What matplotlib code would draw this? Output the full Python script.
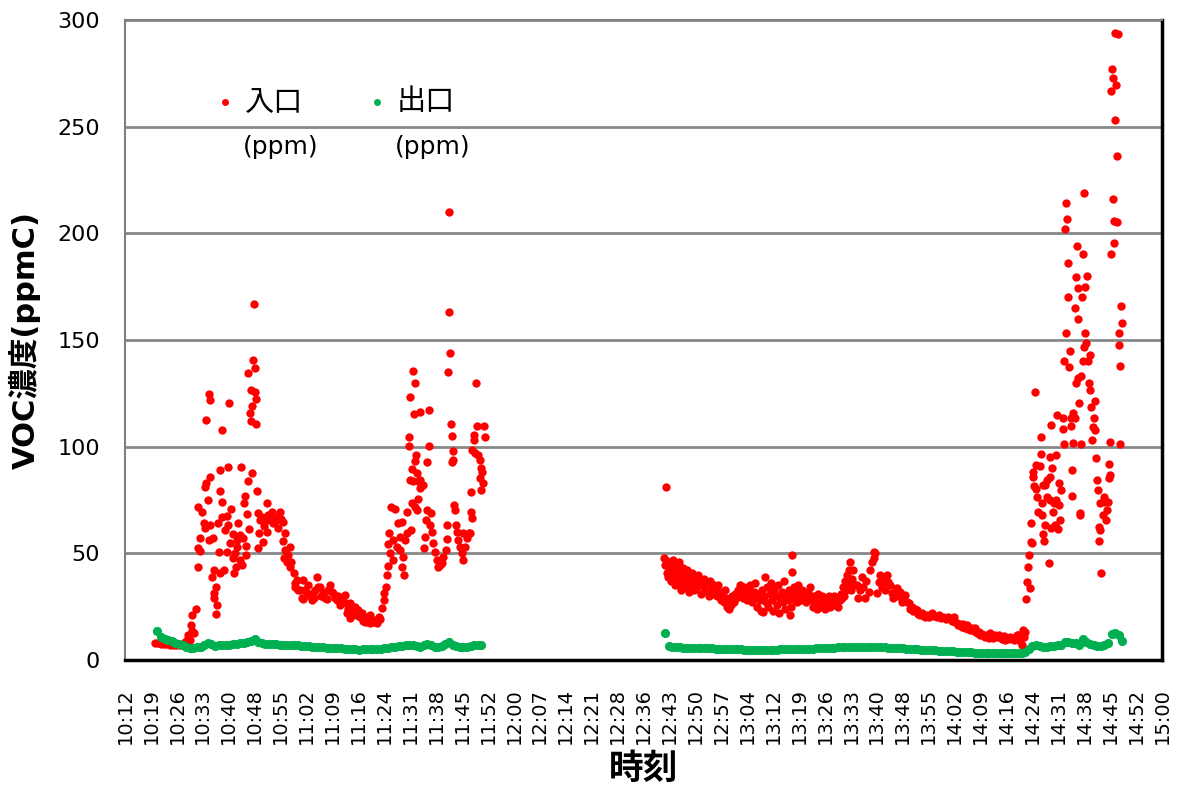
import numpy as np
import matplotlib.pyplot as plt

plt.rcParams['font.family'] = ['DejaVu Sans', 'Noto Sans CJK JP']

# ============================ Data (time = minutes after 10:00) ============================
# 入口 (inlet) - morning run
red_am_min = [20.3, 21.2, 22.0, 22.8, 23.7, 24.5, 25.3, 26.2, 27.0, 27.8,
              28.7, 29.2, 29.6, 30.0, 30.2, 30.5, 30.6, 31.2, 31.7, 32.2,
              32.3, 32.4, 32.8, 32.9, 33.3, 33.8, 34.2, 34.3, 34.4, 34.5,
              35.1, 35.2, 35.3, 35.5, 35.6, 35.7, 36.1, 36.5, 36.6, 36.7,
              36.8, 37.2, 37.3, 37.5, 37.9, 38.2, 38.3, 38.4, 38.5, 38.8,
              38.9, 39.0, 39.5, 39.8, 40.2, 40.3, 40.5, 40.7, 40.8, 41.2,
              41.4, 42.0, 42.1, 42.3, 42.6, 42.9, 43.0, 43.1, 43.5, 43.9,
              44.0, 44.2, 44.4, 44.9, 45.1, 45.3, 45.6, 45.7, 45.8, 46.1,
              46.2, 46.3, 46.7, 46.9, 47.0, 47.2, 47.3, 47.6, 47.7, 48.1,
              48.2, 48.4, 48.5, 48.6, 48.9, 49.0, 49.1, 49.5, 50.1, 50.4,
              50.6, 51.3, 51.4, 51.5, 51.7, 52.3, 52.8, 53.1, 53.7, 54.1,
              54.5, 55.1, 55.3, 55.9, 56.0, 56.1, 56.4, 56.5, 56.9, 57.3,
              57.8, 57.9, 58.1, 58.8, 59.2, 59.3, 59.7, 60.1, 60.6, 61.1,
              61.4, 61.5, 62.0, 62.5, 62.9, 63.4, 63.9, 64.3, 64.4, 64.8,
              65.3, 65.6, 66.2, 66.4, 67.1, 67.6, 68.0, 68.4, 68.9, 69.4,
              69.9, 70.3, 70.8, 71.2, 71.7, 72.0, 72.6, 73.1, 73.5, 73.6,
              73.9, 74.5, 74.6, 75.1, 75.4, 75.9, 76.2, 76.8, 77.3, 77.8,
              78.1, 78.7, 79.1, 79.5, 80.0, 80.1, 80.6, 81.0, 81.4, 81.9,
              82.4, 82.8, 83.3, 83.8, 84.0, 84.5, 84.7, 85.0, 85.1, 85.2,
              85.6, 85.8, 86.4, 86.5, 87.0, 87.5, 87.9, 88.3, 88.4, 88.8,
              88.9, 89.3, 89.5, 89.8, 90.3, 90.4, 90.8, 91.0, 91.1, 91.2,
              91.4, 91.6, 91.7, 92.0, 92.1, 92.3, 92.4, 92.5, 92.6, 92.7,
              93.0, 93.2, 93.4, 93.5, 93.8, 93.9, 94.0, 94.7, 94.9, 95.3,
              95.6, 95.8, 96.0, 96.3, 96.5, 96.7, 96.9, 97.2, 97.6, 98.1,
              98.6, 99.0, 99.5, 100.0, 100.4, 101.1, 101.4, 101.5, 101.8, 102.0,
              102.1, 102.3, 102.5, 102.7, 102.8, 103.0, 103.2, 103.4, 103.7, 103.9,
              104.1, 104.6, 104.9, 105.5, 105.9, 106.0, 106.4, 106.9, 107.4, 107.8,
              108.1, 108.2, 108.3, 108.5, 108.8, 109.0, 109.2, 109.6, 109.7, 110.1,
              110.5, 110.6, 110.8, 111.0, 111.1, 111.4, 111.7, 112.0]
red_am_ppm = [8.1, 7.9, 7.6, 7.5, 7.3, 7.2, 7.0, 7.0, 6.9, 7.0,
              8.6, 9.5, 11.7, 9.4, 16.4, 13.8, 20.9, 12.5, 23.8, 71.6,
              43.8, 52.4, 57.0, 51.2, 69.5, 64.4, 61.7, 81.2, 112.5, 83.0,
              75.0, 56.3, 124.7, 63.3, 121.9, 85.8, 38.8, 57.0, 28.9, 42.2,
              31.3, 21.6, 34.1, 25.8, 64.4, 50.5, 79.4, 89.0, 40.6, 107.8,
              67.0, 74.0, 42.2, 61.0, 50.5, 67.7, 90.6, 63.3, 120.6, 54.7,
              70.8, 47.7, 58.9, 40.6, 50.0, 43.8, 56.3, 53.1, 64.2, 58.6,
              46.9, 90.6, 44.5, 57.0, 73.6, 77.0, 53.4, 49.2, 68.4, 84.0,
              134.5, 61.3, 115.8, 112.0, 126.6, 87.8, 119.0, 140.6, 167.0, 137.0,
              125.7, 122.4, 110.6, 79.4, 52.4, 69.0, 59.7, 65.6, 67.0, 55.5,
              63.0, 65.6, 73.8, 60.2, 68.0, 66.0, 69.5, 64.0, 67.0, 65.6,
              62.0, 69.5, 66.0, 56.0, 64.8, 47.7, 59.4, 51.6, 46.1, 49.0,
              53.1, 43.8, 46.0, 40.6, 36.0, 34.4, 37.5, 33.0, 32.8, 28.9,
              28.6, 37.5, 33.0, 31.3, 35.2, 30.0, 28.1, 31.3, 28.9, 33.0,
              39.0, 34.0, 34.4, 30.0, 31.3, 29.0, 28.4, 33.0, 35.2, 32.0,
              31.3, 29.0, 28.1, 30.0, 25.8, 28.1, 27.0, 30.5, 26.6, 21.9,
              24.0, 26.6, 19.5, 22.0, 25.0, 25.0, 21.0, 23.4, 20.0, 21.9,
              18.5, 18.0, 19.5, 17.8, 17.5, 21.1, 18.5, 18.0, 18.8, 17.5,
              20.3, 19.0, 24.2, 28.1, 31.3, 34.4, 39.8, 44.0, 54.4, 59.4,
              50.0, 71.9, 46.9, 56.3, 70.6, 53.1, 64.4, 51.6, 57.8, 43.8,
              64.8, 48.4, 39.8, 56.3, 59.4, 69.5, 104.4, 100.3, 84.4, 123.4,
              61.0, 73.8, 89.5, 83.7, 135.6, 115.3, 129.7, 71.9, 93.4, 96.1,
              70.3, 87.5, 75.7, 83.7, 80.5, 116.4, 84.4, 82.0, 52.4, 57.8,
              65.6, 70.3, 93.0, 117.2, 100.3, 63.3, 68.8, 60.2, 54.7, 50.8,
              46.9, 43.8, 44.5, 45.3, 48.4, 51.6, 56.5, 63.3, 134.9, 210.0,
              163.0, 144.0, 110.6, 93.0, 105.0, 98.1, 93.8, 72.7, 70.3, 63.3,
              60.2, 56.3, 53.1, 50.0, 47.0, 59.4, 53.1, 57.0, 59.4, 59.4,
              69.5, 78.9, 66.4, 98.4, 103.1, 105.5, 96.9, 130.0, 109.7, 96.1,
              85.2, 93.8, 89.9, 79.7, 88.3, 82.8, 109.7, 104.7]

# 入口 (inlet) - afternoon run
red_pm_min = [161.7, 162.0, 162.3, 162.4, 162.6, 162.8, 163.1, 163.4, 163.7, 163.9,
              164.2, 164.5, 164.8, 165.1, 165.3, 165.6, 165.9, 166.2, 166.4, 166.7,
              167.0, 167.3, 167.6, 167.8, 168.1, 168.4, 168.7, 168.9, 169.5, 169.8,
              170.1, 170.6, 170.9, 171.2, 171.7, 172.0, 172.3, 172.8, 173.1, 173.4,
              173.9, 174.2, 174.5, 175.1, 175.3, 175.6, 176.2, 176.4, 176.7, 177.3,
              177.6, 177.8, 178.4, 178.7, 178.9, 179.2, 179.5, 179.8, 180.1, 180.3,
              180.6, 181.2, 181.4, 181.7, 182.3, 182.6, 182.8, 183.4, 183.7, 183.9,
              184.5, 184.8, 185.1, 185.6, 185.9, 186.2, 186.7, 187.0, 187.3, 187.6,
              187.8, 188.4, 188.7, 188.9, 189.2, 189.5, 189.8, 190.1, 190.3, 190.6,
              191.2, 191.4, 191.7, 192.0, 192.3, 192.8, 193.1, 193.4, 193.7, 193.9,
              194.5, 194.8, 195.1, 195.3, 195.6, 196.2, 196.4, 196.7, 197.0, 197.2,
              197.3, 197.6, 197.8, 198.1, 198.4, 198.7, 198.9, 199.5, 199.8, 200.1,
              200.6, 200.9, 201.2, 201.7, 202.0, 202.3, 202.8, 203.1, 203.4, 203.9,
              204.2, 204.5, 205.1, 205.3, 205.6, 206.2, 206.4, 206.7, 207.3, 207.6,
              207.8, 208.4, 208.7, 208.9, 209.5, 209.8, 210.1, 210.6, 210.9, 211.2,
              211.4, 211.7, 212.0, 212.3, 212.6, 212.8, 213.1, 213.4, 213.7, 213.9,
              214.2, 214.8, 215.2, 215.6, 216.2, 216.6, 217.1, 217.6, 217.8, 218.5,
              218.9, 219.4, 219.9, 220.1, 220.3, 220.8, 221.3, 221.7, 222.2, 222.6,
              223.1, 223.6, 224.0, 224.5, 225.0, 225.4, 225.9, 226.4, 226.7, 227.3,
              227.8, 228.1, 228.7, 229.1, 229.6, 230.1, 230.5, 230.9, 231.4, 231.9,
              232.3, 232.8, 233.4, 234.2, 234.8, 235.3, 236.1, 236.7, 237.5, 238.1,
              238.7, 239.3, 240.1, 240.6, 241.2, 241.6, 242.1, 242.6, 243.1, 243.4,
              243.9, 244.4, 244.8, 245.3, 245.8, 246.2, 246.7, 247.3, 247.7, 248.1,
              248.7, 249.1, 249.5, 250.1, 250.5, 250.9, 251.5, 251.9, 252.3, 252.8,
              253.2, 253.6, 254.2, 254.6, 255.1, 255.6, 256.0, 256.4, 257.0, 257.4,
              257.8, 258.4, 258.8, 259.2, 259.6, 260.1, 260.6, 261.1, 261.4, 261.5,
              261.7, 262.0,
              262.3, 262.5, 262.9, 263.0, 263.4, 263.5, 263.6, 263.9, 264.1, 264.3,
              264.4, 264.6, 265.1, 265.0, 265.4, 265.7, 266.2, 266.4, 266.5, 266.6,
              266.7, 266.9, 267.1, 267.0, 267.5, 267.6, 268.0, 268.1, 268.5, 268.8,
              268.9, 269.0, 269.1, 269.2, 269.4, 269.9, 269.8, 270.3, 270.6, 270.8,
              270.7, 271.3, 271.2, 271.5, 271.7, 272.0, 272.5, 272.6, 272.7, 272.8,
              273.2, 273.3, 273.4, 273.6, 273.8, 274.0, 274.1, 274.5, 274.7, 274.8,
              275.0, 274.9, 275.3, 275.4, 275.8, 275.9, 276.0, 276.2, 276.4, 276.6,
              276.7, 276.8, 277.0, 277.1, 277.3, 277.5, 277.4, 277.8, 278.2, 278.1,
              278.3, 278.4, 278.7, 278.6, 278.9, 279.1, 279.6, 279.5, 279.9, 280.1,
              280.3, 280.6, 280.8, 281.2, 281.3, 281.4, 281.7, 281.9, 282.1, 282.4,
              282.6, 282.8, 282.9, 283.1, 283.8, 283.7, 284.2, 284.5, 284.7, 285.1,
              285.2, 285.3, 285.6, 285.5, 285.8, 285.9, 286.1, 286.4, 286.5, 286.6,
              286.8, 287.0, 286.9, 287.3, 287.5, 287.6, 287.9, 288.0, 288.1, 288.4,
              288.3, 288.7, 288.9]
red_pm_ppm = [47.8, 44.5, 81.2, 41, 46.4, 39, 43, 45, 37, 42,
              47, 40, 35, 44, 38, 41, 46, 36, 33, 40,
              43, 37, 34, 39, 42, 35, 32, 38, 41, 36,
              33, 39, 34, 40, 37, 31, 35, 38, 33, 36,
              32, 30, 37, 34, 31, 35, 33, 30, 35, 32,
              28, 30, 27, 33, 29, 25, 26, 24, 28, 26,
              30, 27, 31, 29, 33, 30, 35, 32, 29, 34,
              31, 28, 33, 35, 30, 27, 32, 36, 29, 25,
              31, 28, 23, 33, 22.5, 30, 39, 27, 34, 25,
              31, 36, 28, 23, 33, 30, 26, 35, 22, 29,
              32, 27, 37, 24, 31, 28, 33, 21, 25, 49.2,
              41.4, 30, 34, 28, 32, 27, 35, 30, 28, 33,
              29, 31, 27, 32, 29, 34, 28, 25, 30, 27,
              24, 31, 28, 25, 30, 27, 24, 29, 26, 30,
              25, 28, 26, 30, 27, 29, 25, 28, 31, 29,
              34, 30, 37, 33, 40, 35, 42, 46, 32.8, 38,
              42, 35, 35, 29, 33, 39, 34.4, 29, 37, 32,
              42, 46, 47.7, 50.8, 50, 31.3, 36.7, 40, 34.4, 37.5,
              33, 39.8, 36.7, 35, 31.3, 28.9, 32, 33.6, 30, 32,
              27.3, 29, 30.5, 27, 26.6, 24, 25, 23, 24, 23.4,
              21.5, 21.1, 22, 20.3, 21, 20, 21.9, 20.5, 20.3, 21,
              19.5, 20.3, 19, 20, 19.5, 18.5, 20.3, 18, 17.2, 16.5,
              17, 15.6, 16.8, 15, 16.4, 14.5, 14.1, 15.2, 13.5, 14.8,
              12.8, 13.2, 11.7, 12.2, 11.2, 10.9, 11.8, 10.5, 12.5, 11,
              10.2, 11.7, 10.6, 11.5, 10.9, 10, 11.2, 9.4, 10.4, 9.8,
              10.9, 10.2, 9.5, 10.2, 11.5, 11.7, 9, 7, 12.8, 14.1,
              11, 13.3,
              28.4, 36.7, 43.7, 49.2, 33.6, 64, 55.5, 54.7, 86, 88.3,
              81.6, 125.8, 91.4, 80, 76.6, 69.5, 91, 104.4, 96.6, 73.4,
              68, 59, 56, 82, 82, 63.3, 84.4, 76.6, 45.3, 86,
              95.3, 75, 61.7, 110.2, 89.9, 73.4, 69.5, 63.3, 96, 114.9,
              75, 82.8, 61.4, 72.7, 65.6, 79.7, 108.3, 113.3, 101.1, 140.3,
              202, 153.2, 214.4, 206.9, 170.3, 186, 137.5, 145, 113.3, 109.7,
              89, 76.9, 116, 101.6, 165.2, 113.3, 179.6, 129.7, 194.1, 159.7,
              132, 174.3, 120.6, 69, 68, 133.1, 101.3, 170.3, 190.3, 140.3,
              146.9, 218.8, 174.7, 153.2, 148.8, 180, 129.7, 140.3, 143, 126.6,
              118.8, 103.1, 109.4, 113.3, 121.6, 107.8, 94.5, 84.4, 79.7, 62.5,
              56, 73.4, 61, 41, 76.6, 68, 74.2, 65.6, 70.3, 74.2,
              85.2, 91.9, 86.7, 102.3, 190.2, 266.6, 276.9, 273, 216, 206,
              195.3, 293.8, 253.2, 269.4, 205.5, 236.3, 293.5, 153.2, 147.7, 137.8,
              101.1, 166, 157.8]

# 出口 (outlet) - one reading per minute
green_am_start = 21
green_am_ppm = [13.5, 11.0, 10.0, 9.6, 9.0, 8.2, 7.4, 6.8, 6.1, 5.6,
                5.5, 5.9, 6.3, 6.8, 7.8, 7.4, 6.7, 6.8, 7.0, 7.1,
                6.9, 7.3, 7.5, 7.8, 8.1, 8.5, 9.0, 9.7, 8.4, 7.8,
                7.7, 7.6, 7.5, 7.4, 7.2, 7.1, 7.0, 6.9, 6.8, 6.8,
                6.7, 6.6, 6.4, 6.3, 6.2, 6.0, 5.9, 5.8, 5.7, 5.6,
                5.5, 5.4, 5.3, 5.1, 5.0, 5.0, 4.9, 5.0, 5.0, 5.0,
                5.1, 5.2, 5.3, 5.5, 5.7, 5.9, 6.2, 6.4, 6.6, 6.8,
                6.9, 7.0, 6.5, 6.3, 6.8, 7.5, 6.9, 6.2, 6.0, 6.4,
                7.6, 8.6, 7.0, 6.6, 6.3, 6.0, 6.3, 6.7, 7.0, 7.2, 7.0]
green_pm_start = 162
green_pm_ppm = [12.5, 6.4, 6.2, 6.0, 5.9, 5.8, 5.8, 5.7, 5.6, 5.6,
                5.5, 5.5, 5.4, 5.4,
                5.3, 5.2, 5.2, 5.1, 5.1, 5.0, 5.0, 5.0, 4.9, 4.9,
                4.9, 4.8, 4.8, 4.8, 4.8, 4.9, 4.9, 4.9, 5.0, 5.0,
                5.0, 5.1, 5.1, 5.1, 5.2,
                5.2, 5.3, 5.3, 5.4, 5.5, 5.5, 5.6, 5.7, 5.8, 5.9,
                6.0, 6.0, 6.1, 6.2, 6.2, 6.2, 6.3, 6.3, 6.2, 6.2,
                6.1, 6.0, 5.9, 5.8, 5.7,
                5.6, 5.5, 5.4, 5.3, 5.2, 5.1, 5.0, 4.9, 4.8, 4.7,
                4.6, 4.5, 4.4, 4.3, 4.2, 4.1, 4.0, 3.9, 3.8, 3.7,
                3.6, 3.6, 3.5, 3.5, 3.4, 3.4, 3.4, 3.3, 3.3, 3.3,
                3.2, 3.2, 3.2, 3.2, 3.3, 3.4, 3.6,
                5.0, 6.6, 7.0, 6.6, 6.2, 6.2, 6.4, 6.5, 6.8, 7.2,
                8.3, 8.6, 7.8, 8.1, 7.2, 9.8, 8.3, 7.5, 6.8, 6.6,
                6.4, 6.8, 8.0, 12.0, 12.5, 11.5, 9.0]

tick_labels = ['10:12', '10:19', '10:26', '10:33', '10:40', '10:48', '10:55',
               '11:02', '11:09', '11:16', '11:24', '11:31', '11:38', '11:45',
               '11:52', '12:00', '12:07', '12:14', '12:21', '12:28', '12:36',
               '12:43', '12:50', '12:57', '13:04', '13:12', '13:19', '13:26',
               '13:33', '13:40', '13:48', '13:55', '14:02', '14:09', '14:16',
               '14:24', '14:31', '14:38', '14:45', '14:52', '15:00']

red_c = '#FF0000'
green_c = '#00B050'

# ================================= Plot =================================
fig = plt.figure(figsize=(11.84, 8), dpi=100)
ax = fig.add_axes([0.1056, 0.175, 0.8758, 0.8])

ax.plot(red_am_min, red_am_ppm, 'o', color=red_c, ms=6, mec='none', zorder=3)
ax.plot(red_pm_min, red_pm_ppm, 'o', color=red_c, ms=6, mec='none', zorder=3)
g_am_t = green_am_start + np.arange(len(green_am_ppm))
g_pm_t = green_pm_start + np.arange(len(green_pm_ppm))
ax.plot(g_am_t, green_am_ppm, 'o', color=green_c, ms=6.6, mec='none', zorder=4)
ax.plot(g_pm_t, green_pm_ppm, 'o', color=green_c, ms=6.6, mec='none', zorder=4)

ax.set_xlim(12, 300)
ax.set_ylim(0, 300)
ax.set_yticks(range(0, 301, 50))
ax.set_xticks(12 + 7.2 * np.arange(len(tick_labels)))
ax.set_xticklabels(tick_labels, rotation=90)
ax.tick_params(axis='y', length=0, pad=18, labelsize=16)
ax.tick_params(axis='x', length=0, pad=20, labelsize=14)
ax.grid(axis='y', color='#888888', lw=2)
ax.set_axisbelow(True)

for side in ['left', 'top']:
    ax.spines[side].set_color('#808080')
    ax.spines[side].set_linewidth(1.5)
for side in ['right', 'bottom']:
    ax.spines[side].set_color('black')
    ax.spines[side].set_linewidth(2.5)

ax.set_ylabel('VOC濃度(ppmC)', fontsize=22, fontweight='bold', labelpad=12)
ax.set_xlabel('時刻', fontsize=25, fontweight='bold', labelpad=6)

# legend (two-line entries, as in the original)
ax.plot([0.0964], [0.872], 'o', color=red_c, ms=5, mec='none', transform=ax.transAxes)
ax.text(0.1157, 0.872, '入口', fontsize=21, va='center', transform=ax.transAxes)
ax.text(0.1138, 0.8016, '(ppm)', fontsize=18, va='center', transform=ax.transAxes)
ax.plot([0.2430], [0.872], 'o', color=green_c, ms=5, mec='none', transform=ax.transAxes)
ax.text(0.2623, 0.872, '出口', fontsize=21, va='center', transform=ax.transAxes)
ax.text(0.2604, 0.8016, '(ppm)', fontsize=18, va='center', transform=ax.transAxes)

fig.savefig('out.png', dpi=100)
